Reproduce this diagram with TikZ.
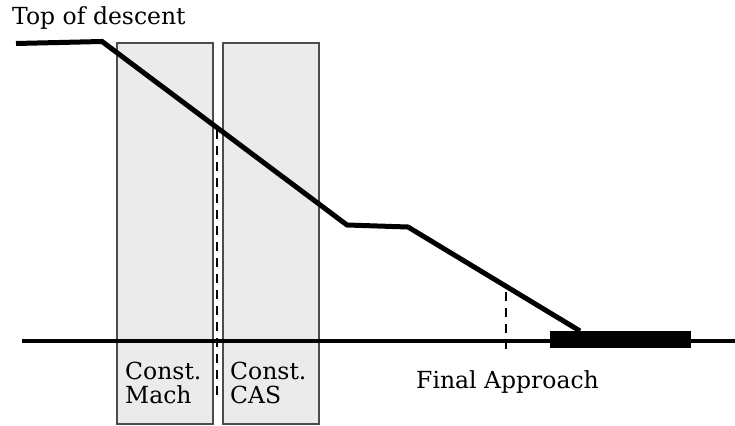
\documentclass[tikz,border=0pt]{standalone}
\usepackage{fontspec}
\setmainfont{DejaVu Serif}
\begin{document}
\begin{tikzpicture}[x=1pt,y=-1pt,
  phase/.style={draw=black!70,fill=black!8,line width=1.6pt,minimum width=96pt,minimum height=381pt,inner sep=0pt,anchor=north west},
  lbl/.style={font=\fontsize{23.5}{24}\selectfont,inner sep=0pt,align=left},
  prof/.style={line width=5pt,line join=miter},
  dashline/.style={line width=1.6pt,dash pattern=on 9pt off 7pt}]
\useasboundingbox (0,0) rectangle (735,425);
\node[phase] (mach) at (116,42) {};
\node[phase] (cas) at (222,42) {};
\coordinate (g0) at (22,341);
\coordinate (g1) at (735,341);
\draw[line width=4.8pt] (g0) -- (g1);
\node[fill=black,minimum width=141pt,minimum height=17pt,inner sep=0pt,anchor=north west] (rwy) at (550,330.5) {};
\coordinate (d0) at (217,130);
\coordinate (d1) at (217,396);
\draw[dashline] (d0) -- (d1);
\coordinate (f0) at (506,292);
\coordinate (f1) at (506,353);
\draw[dashline] (f0) -- (f1);
\coordinate (p0) at (16,43.5);
\coordinate (p1) at (102,41.5);
\coordinate (p2) at (347,225);
\coordinate (p3) at (408,227);
\coordinate (p4) at (580,331);
\draw[prof] (p0) -- (p1) -- (p2) -- (p3) -- (p4);
\node[lbl,anchor=base west] (tod) at (12,25) {Top of descent};
\node[lbl,anchor=base west] (fa) at (416,388) {Final Approach};
\node[lbl,anchor=base west] (cm) at (125,403) {Const.\\Mach};
\node[lbl,anchor=base west] (cc) at (230,403) {Const.\\CAS};
\end{tikzpicture}
\end{document}
